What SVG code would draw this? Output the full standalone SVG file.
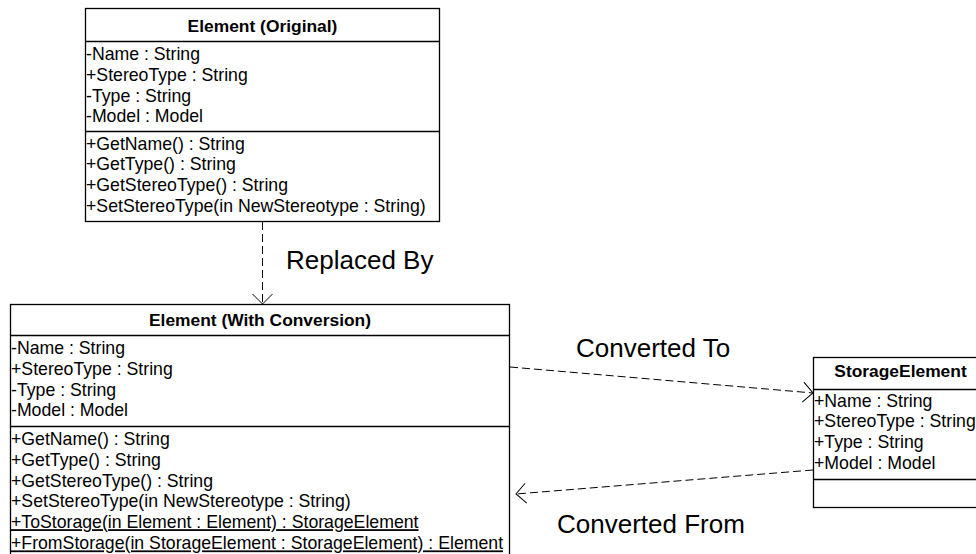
<svg xmlns="http://www.w3.org/2000/svg" width="976" height="554" viewBox="0 0 976 554">
  <style>
    .box { fill: #ffffff; stroke: #000000; stroke-width: 1.3; }
    .sep { stroke: #000000; stroke-width: 1.3; }
    .title { font-family: "Liberation Sans", Arial, sans-serif; font-size: 17.4px; font-weight: bold; text-anchor: middle; fill: #000; }
    .member { font-family: "Liberation Sans", Arial, sans-serif; font-size: 17.7px; fill: #000; }
    .static { text-decoration: underline; }
    .label { font-family: "Liberation Sans", Arial, sans-serif; font-size: 26px; fill: #000; }
    .dep { fill: none; stroke: #000000; stroke-width: 1; stroke-dasharray: 8 4; }
  </style>
  <defs>
    <marker id="open-arrow" viewBox="0 0 12 22" refX="11" refY="11" markerWidth="12" markerHeight="22" markerUnits="userSpaceOnUse" orient="auto">
      <path d="M1,1 L11,11 L1,21" fill="none" stroke="#000" stroke-width="1"/>
    </marker>
  </defs>
  <rect width="976" height="554" fill="#ffffff"/>

  <!-- Element (Original) -->
  <g id="element-original">
    <rect class="box" x="85.5" y="8.5" width="354" height="213"/>
    <line class="sep" x1="85.5" y1="41.5" x2="439.5" y2="41.5"/>
    <line class="sep" x1="85.5" y1="131.5" x2="439.5" y2="131.5"/>
    <text class="title" x="262.5" y="32">Element (Original)</text>
    <text class="member" x="86" y="60">-Name : String</text>
    <text class="member" x="86" y="80.8">+StereoType : String</text>
    <text class="member" x="86" y="101.6">-Type : String</text>
    <text class="member" x="86" y="122.4">-Model : Model</text>
    <text class="member" x="86" y="149.5">+GetName() : String</text>
    <text class="member" x="86" y="170.3">+GetType() : String</text>
    <text class="member" x="86" y="191.1">+GetStereoType() : String</text>
    <text class="member" x="86" y="211.9">+SetStereoType(in NewStereotype : String)</text>
  </g>

  <!-- Element (With Conversion) -->
  <g id="element-with-conversion">
    <rect class="box" x="10.5" y="304.5" width="499" height="262"/>
    <line class="sep" x1="10.5" y1="335.5" x2="509.5" y2="335.5"/>
    <line class="sep" x1="10.5" y1="426.5" x2="509.5" y2="426.5"/>
    <text class="title" x="260" y="326">Element (With Conversion)</text>
    <text class="member" x="11" y="354">-Name : String</text>
    <text class="member" x="11" y="374.8">+StereoType : String</text>
    <text class="member" x="11" y="395.6">-Type : String</text>
    <text class="member" x="11" y="416.4">-Model : Model</text>
    <text class="member" x="11" y="445">+GetName() : String</text>
    <text class="member" x="11" y="465.8">+GetType() : String</text>
    <text class="member" x="11" y="486.6">+GetStereoType() : String</text>
    <text class="member" x="11" y="507.4">+SetStereoType(in NewStereotype : String)</text>
    <text class="member static" x="11" y="528.2">+ToStorage(in Element : Element) : StorageElement</text>
    <text class="member static" x="11" y="549.4">+FromStorage(in StorageElement : StorageElement) : Element</text>
  </g>

  <!-- StorageElement -->
  <g id="storage-element">
    <rect class="box" x="813.5" y="357.5" width="174" height="150"/>
    <line class="sep" x1="813.5" y1="389.5" x2="987.5" y2="389.5"/>
    <line class="sep" x1="813.5" y1="479.5" x2="987.5" y2="479.5"/>
    <text class="title" x="900.5" y="377">StorageElement</text>
    <text class="member" x="814" y="406.5">+Name : String</text>
    <text class="member" x="814" y="427.3">+StereoType : String</text>
    <text class="member" x="814" y="448.1">+Type : String</text>
    <text class="member" x="814" y="468.9">+Model : Model</text>
  </g>

  <!-- Dependencies -->
  <g id="connectors">
    <line class="dep" x1="262.5" y1="222" x2="262.5" y2="304" marker-end="url(#open-arrow)"/>
    <line class="dep" x1="510" y1="367" x2="813" y2="393" marker-end="url(#open-arrow)"/>
    <line class="dep" x1="813" y1="470" x2="516" y2="494" marker-end="url(#open-arrow)"/>
  </g>

  <!-- Connector labels -->
  <g id="labels">
    <text class="label" x="286" y="269">Replaced By</text>
    <text class="label" x="576" y="357">Converted To</text>
    <text class="label" x="557" y="533">Converted From</text>
  </g>
</svg>
